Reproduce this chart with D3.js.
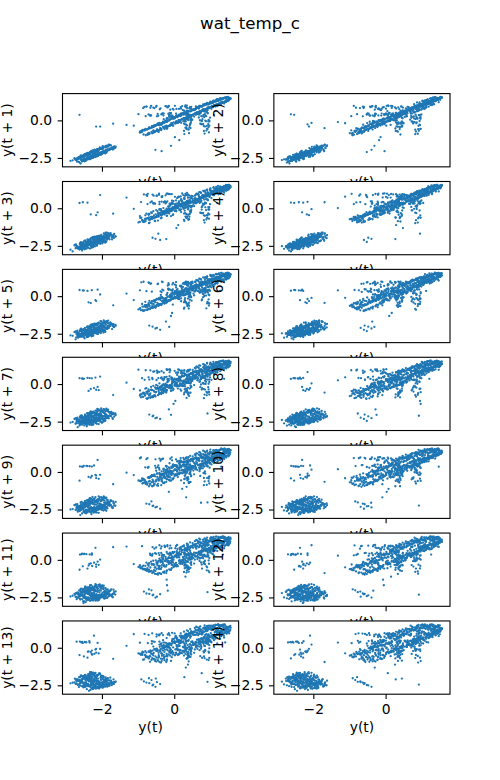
<!DOCTYPE html>
<html>
<head>
<meta charset="utf-8">
<script src="https://cdn.jsdelivr.net/npm/d3@7"></script>
<style>
  html, body { margin: 0; padding: 0; background: #fff; }
  svg { display: block; }
  text { font-family: "DejaVu Sans", sans-serif; fill: #000; }
</style>
</head>
<body>
<svg id="chart" width="500" height="780"></svg>
<script>
// ---- data (standardized water temperature series) ----
const titleText = "wat_temp_c";
const lags = [1,2,3,4,5,6,7,8,9,10,11,12,13,14];
const xTickValues = [-2, 0];
const xTickLabels = ["\u22122", "0"];
const yTickValues = [-2.5, 0.0];
const yTickLabels = ["\u22122.5", "0.0"];

const lowA = [
-2.10,-2.04,-2.22,-2.29,-2.07,-2.18,-2.20,-2.11,-2.37,-2.23,
-2.26,-2.35,-2.52,-2.40,-2.44,-2.61,-2.49,-2.55,-2.71,-2.58,
-2.62,-2.47,-2.69,-2.75,-2.56,-2.60,-2.43,-2.51,-2.38,-2.46,
-2.30,-2.41,-2.19,-2.24,-2.33,-2.12,-2.06,-2.21,-1.95,-2.02,
-1.88,-1.97,-1.83,-1.74,-1.90,-1.69,-1.78,-1.63,-1.82,-1.71,
-1.86,-1.99,-1.92,-2.08,-1.96,-2.17,-2.25,-2.09,-2.31,-2.42,
-2.28,-2.50,-2.39,-2.57,-2.66,-2.48,-2.72,-2.63,-2.54,-2.41,
-2.58,-2.35,-2.47,-2.27,-2.36,-2.16,-2.32,-2.21,-2.03,-2.14,
-1.96,-2.11,-2.01,-1.84,-1.93,-2.06,-1.79,-1.89,-1.98,-1.72,
-1.81,-1.94,-2.07,-1.91,-2.19,-2.12,-2.02,-2.28,-2.37,-2.18,
-2.44,-2.30,-2.36,-2.52,-2.45,-2.33,-2.59,-2.47,-2.68,-2.51,
-2.42,-2.56,-2.38,-2.29,-2.46,-2.24,-2.34,-2.15,-2.08,-2.26,
-1.99,-2.13,-1.92,-2.04,-1.87,-1.76,-1.91,-1.80,-1.66,-1.73,
-1.85,-1.70,-1.94,-2.05,-1.88,-2.16,-2.00,-2.23,-2.32,-2.14,
-2.40,-2.27,-2.49,-2.58,-2.39,-2.53,-2.64,-2.45,-2.70,-2.57,
-2.48,-2.61,-2.43,-2.55,-2.34,-2.50,-2.28,-2.40,-2.53,-2.62
];

const highA = [
0.37,0.40,0.35,0.38,0.41,0.36,0.39,0.34,
-0.58,-0.43,-0.66,0.31,-0.49,-0.71,-0.55,0.82,-0.38,-0.62,
-0.47,-0.29,0.45,-0.51,-0.34,-0.18,-0.40,0.74,-0.25,-0.09,
-0.31,-0.14,0.27,-0.22,-0.03,-0.35,-2.05,-0.41,-0.17,0.88,
-0.06,0.11,-0.12,0.50,0.04,-0.19,0.15,0.02,0.97,-0.08,
0.21,0.07,0.33,0.43,0.18,0.29,0.42,0.79,0.26,0.12,
0.30,-0.04,0.16,0.36,0.08,-0.13,0.24,0.68,0.19,0.05,
0.45,0.61,0.52,0.70,0.58,0.47,0.76,0.66,0.83,0.71,
0.92,0.80,0.74,0.95,0.87,1.04,0.93,0.86,1.10,0.99,
1.18,1.06,1.24,1.13,1.02,1.21,1.31,1.15,1.27,1.38,
1.23,1.34,1.45,1.30,1.41,1.50,1.36,1.47,1.55,1.43,
1.52,1.49,1.56,1.46,1.53,1.40,1.51,1.44,1.37,1.48,
1.32,1.45,1.28,1.39,1.19,1.33,1.25,1.11,1.29,1.16,
1.07,1.22,1.01,1.14,0.93,1.05,0.97,0.84,1.00,0.88,
0.76,0.94,0.81,0.69,0.86,0.72,0.60,0.79,0.65,0.53,
0.71,0.48,0.29,0.57,0.41,0.26,0.44,0.86,0.31,0.17,
0.35,0.09,0.22,0.47,0.01,0.14,-0.11,0.06,0.76,-0.05,
-0.20,-0.09,0.33,-0.28,-0.15,-0.37,-0.23,0.95,-0.44,-0.31,
-0.09,-1.69,-0.22,-0.52,-0.36,0.40,-0.61,-0.45,-0.73,-0.57,
-0.82,-0.66,0.84,-0.88,-0.74,-0.95,-0.79,0.28,-0.91,-0.70,
-0.84,-0.63,-0.77,0.92,-0.58,-0.69,-0.48,-0.60,-0.39,-0.52
];

const lowB = [
-1.96,-2.11,-2.03,-2.24,-2.15,-2.32,-2.27,-2.45,-2.36,-2.29,
-2.51,-2.42,-2.60,-2.48,-2.67,-2.55,-2.73,-2.62,-2.81,-2.66,
-2.59,-2.87,-2.70,-2.64,-2.76,-2.52,-2.61,-2.47,-2.56,-2.39,
-2.50,-2.33,-2.44,-2.21,-2.37,-2.26,-2.13,-2.30,-2.05,-2.18,
-1.98,-2.09,-1.90,-2.02,-1.84,-1.95,-1.77,-1.86,-1.68,-1.81,
-1.62,-1.75,-1.67,-1.88,-1.79,-1.97,-1.85,-2.06,-2.14,-1.99,
-2.21,-2.10,-2.34,-2.25,-2.19,-2.41,-2.30,-2.53,-2.39,-2.46,
-2.35,-2.23,-2.40,-2.16,-2.28,-2.07,-2.20,-2.01,-2.12,-1.93,
-2.04,-1.87,-2.00,-1.92,-2.09,-1.98,-2.17,-2.08,-2.26,-2.13,
-2.31,-2.42,-2.24,-2.49,-2.37,-2.58,-2.45,-2.63,-2.51,-2.69,
-2.57,-2.44,-2.65,-2.53,-2.40,-2.59,-2.34,-2.47,-2.27,-2.38,
-2.19,-2.32,-2.11,-2.24,-2.03,-2.15,-1.94,-2.07,-1.89,-2.01,
-1.83,-1.96,-2.10,-1.91,-2.18,-2.05,-2.29,-2.14,-2.36,-2.22,
-2.43,-2.30,-2.50,-2.38,-2.26,-2.46,-2.33,-2.21,-2.39,-2.27,
-2.35,-2.16,-2.28,-2.09,-2.22,-2.37,-2.18,-2.31,-2.12,-2.16
];

const highB = [
-0.41,-0.27,-0.46,0.43,-0.33,-0.19,-0.38,0.80,-0.24,-0.12,
-0.30,0.32,-0.07,-0.21,0.03,-0.15,0.97,-0.02,0.10,-0.09,
0.48,0.06,-0.18,0.14,-1.32,-0.30,-0.11,0.71,0.01,0.17,
0.39,0.09,0.25,-0.05,0.18,0.88,0.28,0.13,0.34,0.21,
0.37,0.44,0.30,0.92,0.49,0.35,0.57,0.42,0.38,0.63,
0.51,0.70,0.59,0.78,0.66,0.87,0.74,0.95,0.83,1.03,
0.90,1.11,0.99,0.87,1.08,1.19,1.02,1.14,1.26,1.09,
1.22,1.33,1.17,1.29,1.40,1.25,1.36,1.47,1.31,1.43,
1.52,1.38,1.49,1.55,1.44,1.51,1.47,1.54,1.42,1.50,
1.36,1.46,1.29,1.41,1.23,1.35,1.18,1.30,1.12,1.26,
1.34,1.21,1.06,1.17,1.28,1.10,1.01,1.15,0.94,1.07,
1.19,1.03,0.91,1.12,0.98,0.85,1.05,0.92,0.79,0.97,
1.08,0.89,0.76,0.93,0.82,0.68,0.87,0.73,0.61,0.80,
0.66,0.55,0.74,0.59,0.47,0.64,0.52,0.70,0.57,0.45,
0.60,0.37,0.48,0.33,0.85,0.41,0.26,0.38,0.15,0.31,
0.08,0.22,0.95,0.03,0.17,-0.06,0.29,0.11,-0.14,0.02,
-1.12,-0.35,-0.19,-0.04,0.77,-0.26,-0.11,-0.33,0.45,-0.21,
-0.42,-0.28,-0.50,0.90,-0.37,-0.58,-0.45,-0.67,0.34,-0.53,
-0.75,-0.61,-0.86,0.82,-0.70,-0.92,-0.79,-0.99,0.41,-0.85,
-0.94,-0.73,-0.88,-0.64,0.96,-0.80,-0.57,-0.69,-0.47,-0.62,
-0.38,-0.53,-0.31,-0.44,0.30,-0.26,-0.40,-0.33,-0.22,-0.35
];

const highC = [
-0.29,-0.16,0.44,-0.24,-0.08,-0.19,0.86,-0.02,-0.13,0.06,
-0.05,0.31,0.12,0.01,0.19,0.78,0.08,0.26,0.15,0.33,
0.36,0.21,0.41,0.29,0.52,0.38,0.61,0.47,0.90,0.56,
0.68,0.79,0.63,0.88,0.72,0.97,0.84,1.06,0.91,1.15,
1.00,1.22,1.08,1.29,1.16,1.36,1.21,1.42,1.27,1.48,
1.33,1.45,1.52,1.39,1.50,1.31,1.44,1.24,1.37,1.18,
1.30,1.11,1.26,1.04,1.19,0.96,1.13,1.02,0.89,1.07,
0.93,0.81,0.99,0.86,0.71,0.90,0.77,0.63,0.83,0.69,
0.38,0.58,0.74,0.51,0.66,0.43,0.60,0.93,0.47,0.34,
0.53,0.39,0.24,0.45,0.30,0.17,0.36,0.83,0.22,0.09,
0.27,0.13,0.01,0.19,0.46,0.05,-0.08,0.10,-0.15,-0.02,
0.72,-0.21,-0.07,-0.29,-0.14,0.35,-0.34,-0.20,-0.42,-0.27,
-0.49,0.97,-0.35,-0.56,-0.41,-0.63,-0.48,0.27,-0.70,-0.54,
-0.77,-0.60,-0.83,0.89,-0.68,-0.89,-0.74,-0.95,-0.81,-0.66
];

const highD = [
-0.52,-0.71,0.39,-0.60,-0.43,-0.77,0.91,-0.55,-0.36,-0.64,
0.33,-0.48,-0.27,-0.58,0.85,-0.41,-0.19,-0.50,-0.32,0.46,
-0.12,-0.37,-0.24,0.94,-0.06,-0.29,0.08,-0.15,0.40,0.02,
-0.21,0.13,0.76,-0.03,0.22,0.07,0.31,0.99,0.18,0.39,
0.27,0.52,0.35,0.64,0.44,0.88,0.57,0.73,0.61,0.84,
0.69,0.96,0.80,1.07,0.91,1.16,1.00,1.24,1.09,1.32,
1.18,1.41,1.26,1.35,1.47,1.30,1.21,1.38,1.12,1.27,
1.04,1.19,0.95,1.10,0.35,0.98,0.86,1.03,0.77,0.92,
0.68,0.83,0.59,0.75,0.28,0.64,0.50,0.70,0.43,0.81,
0.36,0.55,0.25,0.47,0.14,0.38,0.05,0.29,-0.07,0.19,
-0.16,0.94,-0.25,-0.04,-0.34,0.42,-0.45,-0.20,-0.56,-0.33
];

const series = lowA.concat(highA, lowB, highB, highC, highD);

// ---- layout (matplotlib-like subplot grid) ----
const W = 500, H = 780;
const figL = 62.5, figR = 450, figT = 93.6, figB = 694.2;
const nRows = 7, nCols = 2, wspace = 0.2, hspace = 0.2;
const cellW = (figR - figL) / (nCols + (nCols - 1) * wspace);
const cellH = (figB - figT) / (nRows + (nRows - 1) * hspace);
const tickLen = 4.86;
const fs = 13.89;
const color = "#1f77b4";

const svg = d3.select("#chart");
svg.append("rect").attr("width", W).attr("height", H).attr("fill", "#fff");

svg.append("text")
  .attr("x", W / 2).attr("y", 29)
  .attr("text-anchor", "middle")
  .style("font-size", "16.67px")
  .text(titleText);

function pad(ext) {
  const d = (ext[1] - ext[0]) * 0.05;
  return [ext[0] - d, ext[1] + d];
}

const xDomain = pad(d3.extent(series));

lags.forEach((lag, i) => {
  const row = Math.floor(i / nCols), col = i % nCols;
  const x0 = figL + col * cellW * (1 + wspace);
  const y0 = figT + row * cellH * (1 + hspace);
  const xs = series.slice(0, series.length - lag);
  const ys = series.slice(lag);
  const pts = xs.map((v, j) => [v, ys[j]]);

  const x = d3.scaleLinear().domain(xDomain).range([0, cellW]);
  const y = d3.scaleLinear().domain(pad(d3.extent(ys))).range([cellH, 0]);

  const g = svg.append("g").attr("transform", `translate(${x0},${y0})`);
  g.append("rect").attr("width", cellW).attr("height", cellH).attr("fill", "#fff");

  const clipId = "clip" + lag;
  g.append("clipPath").attr("id", clipId)
    .append("rect").attr("width", cellW).attr("height", cellH);

  g.append("g").attr("clip-path", `url(#${clipId})`)
    .selectAll("circle").data(pts).join("circle")
    .attr("cx", d => x(d[0]))
    .attr("cy", d => y(d[1]))
    .attr("r", 1.15)
    .attr("fill", color);

  const isBottom = row === nRows - 1;
  const xAxis = d3.axisBottom(x).tickValues(xTickValues)
    .tickSize(tickLen).tickPadding(5.3)
    .tickFormat((d, k) => isBottom ? xTickLabels[k] : "");
  const gx = g.append("g").attr("transform", `translate(0,${cellH})`).call(xAxis);

  const yAxis = d3.axisLeft(y).tickValues(yTickValues)
    .tickSize(tickLen).tickPadding(5.5)
    .tickFormat((d, k) => yTickLabels[k]);
  const gy = g.append("g").call(yAxis);

  [gx, gy].forEach(a => {
    a.select(".domain").remove();
    a.selectAll(".tick line").attr("stroke", "#000").attr("stroke-width", 1.1);
    a.selectAll(".tick text").attr("fill", "#000")
      .style("font-size", fs + "px").style("font-family", "'DejaVu Sans', sans-serif");
  });

  g.append("rect").attr("width", cellW).attr("height", cellH)
    .attr("fill", "none").attr("stroke", "#000").attr("stroke-width", 1.1);

  g.append("text")
    .attr("x", cellW / 2)
    .attr("y", cellH + (isBottom ? 38 : 20.5))
    .attr("text-anchor", "middle")
    .style("font-size", fs + "px")
    .text("y(t)");

  g.append("text")
    .attr("transform", `translate(-50.5,${cellH / 2}) rotate(-90)`)
    .attr("text-anchor", "middle")
    .style("font-size", fs + "px")
    .text(`y(t + ${lag})`);
});
</script>
</body>
</html>
